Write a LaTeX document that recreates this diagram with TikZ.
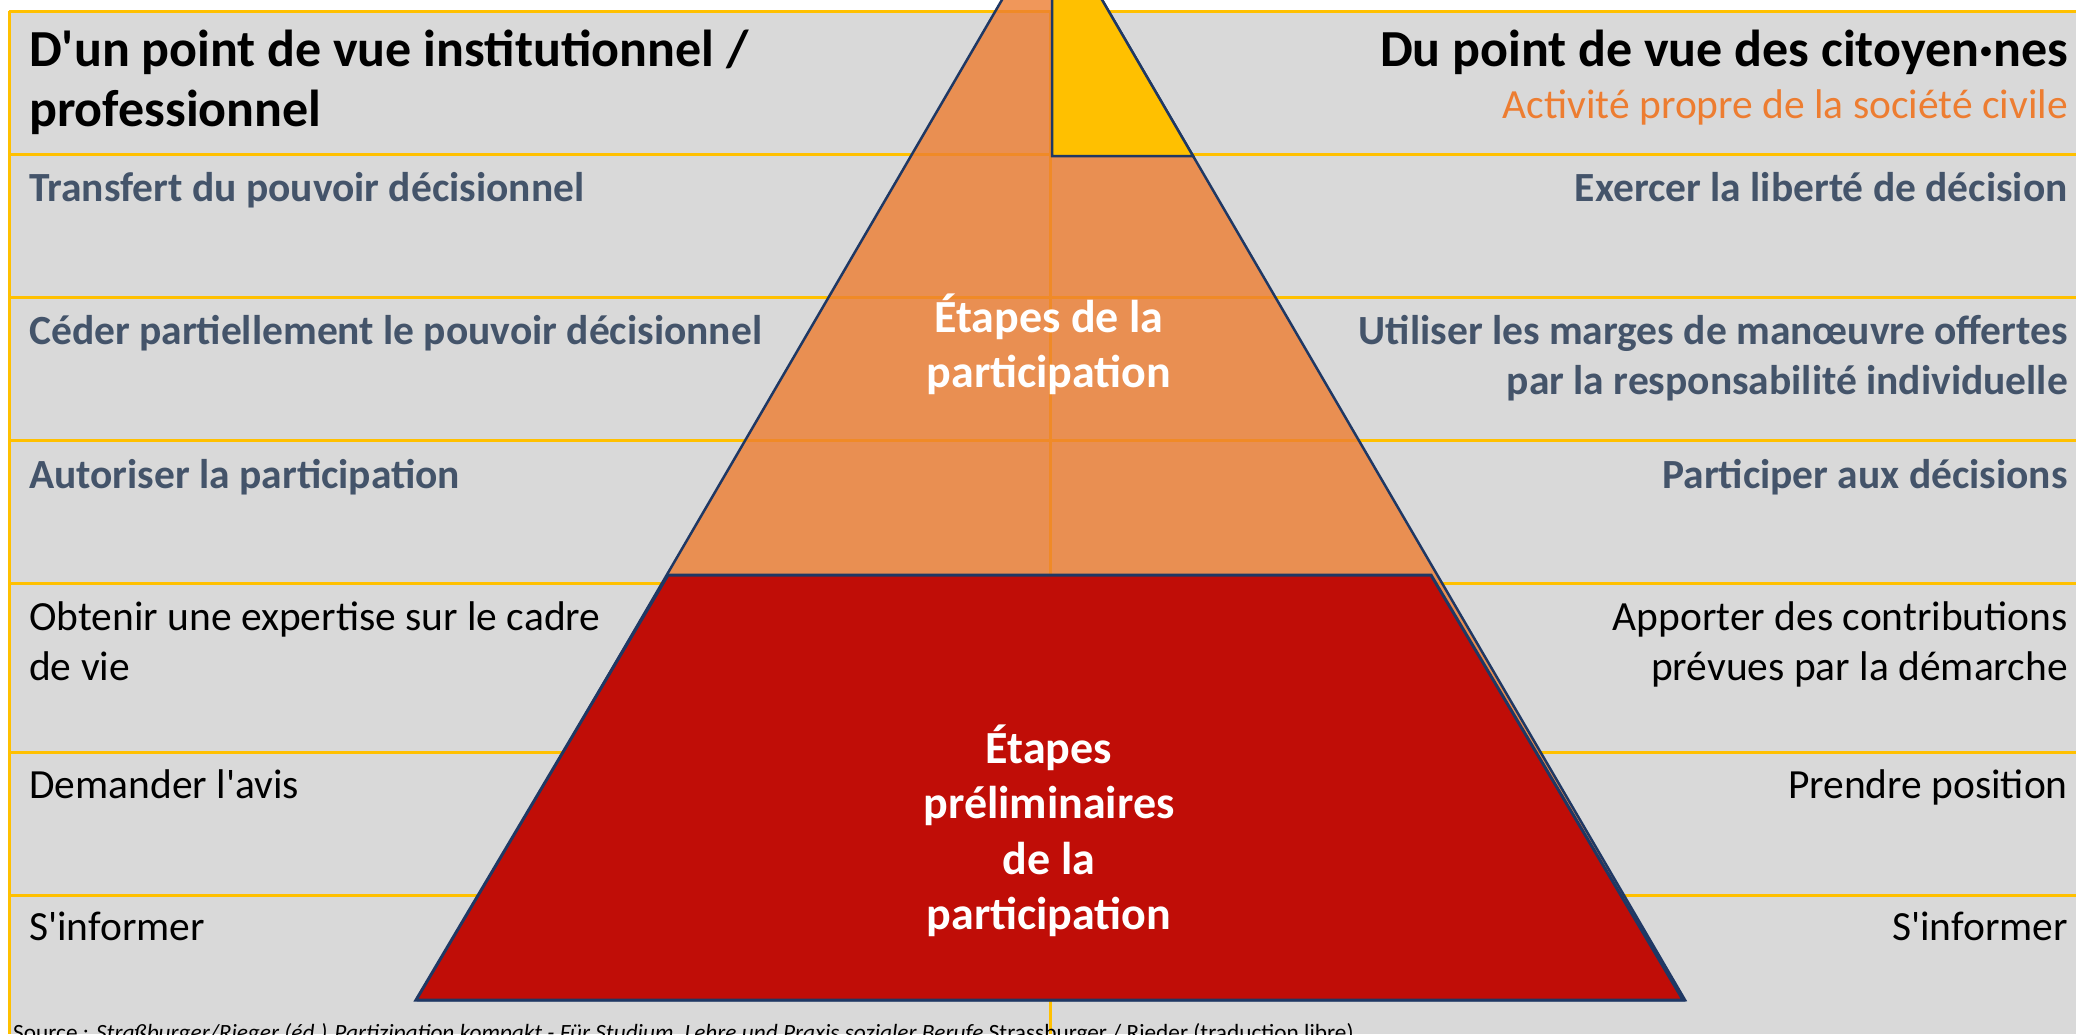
\documentclass[tikz,border=0pt]{standalone}
\usepackage{fontspec}
\setmainfont{Carlito}
\usepackage{tikz}
\definecolor{bggray}{HTML}{D9D9D9}
\definecolor{gridyellow}{HTML}{FFC000}
\definecolor{slate}{HTML}{44546A}
\definecolor{civorange}{HTML}{ED7D31}
\definecolor{steporange}{HTML}{ED7D31}
\definecolor{stepred}{RGB}{192,13,7}
\definecolor{edgeblue}{HTML}{1F3864}

\tikzset{
  gridline/.style={draw=gridyellow, line width=3},
  headtext/.style={inner sep=0pt, font=\bfseries\fontsize{52}{60}\selectfont, align=left, anchor=base west},
  civtext/.style={inner sep=0pt, text=civorange, font=\fontsize{41.5}{50}\selectfont, anchor=base east},
  instrow/.style={inner sep=0pt, text=slate, font=\bfseries\fontsize{41.5}{50}\selectfont, align=left, anchor=base west},
  citrow/.style={inner sep=0pt, text=slate, font=\bfseries\fontsize{41.5}{50}\selectfont, align=right, anchor=base east},
  prerow/.style={inner sep=0pt, font=\fontsize{41.5}{50}\selectfont, align=left, anchor=base west},
  prerowr/.style={inner sep=0pt, font=\fontsize{41.5}{50}\selectfont, align=right, anchor=base east},
  stagetext/.style={inner sep=0pt, text=white, font=\bfseries\fontsize{46}{55.5}\selectfont, align=center, anchor=base},
  srctext/.style={inner sep=0pt, font=\fontsize{23.3}{28}\selectfont, anchor=base west}
}

\begin{document}
\begin{tikzpicture}[x=1pt,y=-1pt]
\useasboundingbox (0,0) rectangle (2076,1034);
\clip (0,0) rectangle (2076,1034);
% background and table lines
\fill[white] (0,0) rectangle (2076,1034);
\fill[bggray] (9,11) rectangle (2076,1034);
\foreach \y in {11,154,297,440,583,752,895}
  \draw[gridline] (9,\y) -- (2076,\y);
\draw[gridline] (9,11) -- (9,1034);
\draw[gridline] (1050,11) -- (1050,1034);

% pyramid
\coordinate (apex) at (1052,-86);
\coordinate (bl) at (419,1000);
\coordinate (br) at (1685,1000);
\filldraw[fill=steporange, fill opacity=0.8, draw=edgeblue, line width=2.5] (apex) -- (br) -- (bl) -- cycle;
\filldraw[fill=stepred, draw=edgeblue, line width=3] (668,575) -- (1431,575) -- (1683,1000) -- (416,1000) -- cycle;
\filldraw[fill=gridyellow, draw=edgeblue, line width=2.5] (apex) -- (1052,156) -- (1193,156) -- cycle;

% headers (multi-line nodes sit on their last baseline)
\node[headtext] (instit) at (29,126) {D\textquotesingle un point de vue institutionnel /\\professionnel};
\node[headtext, anchor=base east] (citoy) at (2068,66) {Du point de vue des citoyen·nes};
\node[civtext] (civile) at (2068,118) {Activité propre de la société civile};

% rows, left side
\node[instrow] (transfert) at (29,201) {Transfert du pouvoir décisionnel};
\node[instrow] (ceder) at (29,344) {Céder partiellement le pouvoir décisionnel};
\node[instrow] (autoriser) at (29,488) {Autoriser la participation};
\node[prerow] (expertise) at (29,680) {Obtenir une expertise sur le cadre\\de vie};
\node[prerow] (avis) at (29,798) {Demander l\textquotesingle avis};
\node[prerow] (informl) at (29,940) {S\textquotesingle informer};

% rows, right side
\node[citrow] (exercer) at (2068,201) {Exercer la liberté de décision};
\node[citrow] (marges) at (2068,394) {Utiliser les marges de manœuvre offertes\\par la responsabilité individuelle};
\node[citrow] (decisions) at (2068,488) {Participer aux décisions};
\node[prerowr] (contrib) at (2068,680) {Apporter des contributions\\prévues par la démarche};
\node[prerowr] (position) at (2068,798) {Prendre position};
\node[prerowr] (informr) at (2068,940) {S\textquotesingle informer};

% stages
\node[stagetext] (etapes) at (1049,387.5) {Étapes de la\\participation};
\node[stagetext] (prelim) at (1049,929.5) {Étapes\\préliminaires\\de la\\participation};

\node[srctext] (source) at (13,1040) {Source : \textit{Straßburger/Rieger (éd.) Partizipation kompakt - Für Studium, Lehre und Praxis sozialer Berufe} Strassburger / Rieder (traduction libre)};
\end{tikzpicture}
\end{document}
